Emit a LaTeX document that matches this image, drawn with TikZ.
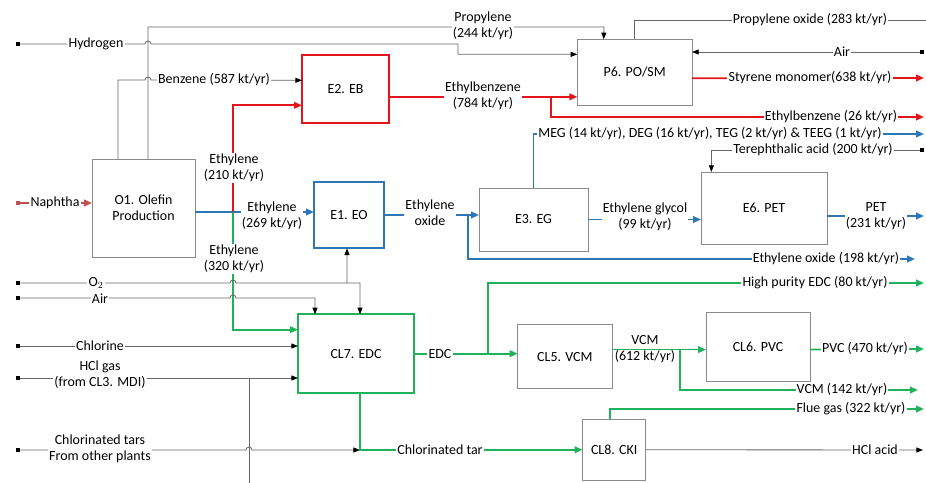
\documentclass[tikz,border=0pt]{standalone}
\usepackage{fontspec}
\setmainfont{Carlito}
\usepackage{tikz}
\usetikzlibrary{arrows.meta,positioning}
\definecolor{boxgray}{HTML}{8A8A8A}
\definecolor{linegray}{HTML}{666666}
\definecolor{ebred}{HTML}{E3151A}
\definecolor{naph}{HTML}{C0504D}
\definecolor{eoblue}{HTML}{2D76B8}
\definecolor{clgreen}{HTML}{1FB25A}

\begin{document}
\begin{tikzpicture}[x=0.03cm, y=-0.03cm,
      box/.style={draw=boxgray, line width=0.7pt, inner sep=0pt, outer sep=0pt, align=center, font=\fontsize{11.9}{13.8}\selectfont},
      lbl/.style={fill=white, inner sep=1pt, align=center, font=\fontsize{11.9}{13.8}\selectfont},
      src/.style={fill=black, minimum size=0.13cm, inner sep=0pt},
      gline/.style={draw=linegray, line width=0.7pt},
      garr/.style={gline, -{Triangle[length=2mm, width=1.5mm, color=black]}},
      rline/.style={draw=ebred, line width=1.5pt},
      rarr/.style={rline, -{Triangle[length=2.4mm, width=2mm]}},
      bline/.style={draw=eoblue, line width=1.5pt},
      barr/.style={bline, -{Triangle[length=2.4mm, width=2mm]}},
      cline/.style={draw=clgreen, line width=1.5pt},
      carr/.style={cline, -{Triangle[length=2.4mm, width=2mm]}},
      narr/.style={draw=naph, line width=1.5pt, -{Triangle[length=2.4mm, width=2mm]}}
    ]
    \useasboundingbox (0,0) rectangle (926,483);

    \node[box, minimum width=3.09cm, minimum height=2.94cm] (o1) at (143.5,208) {O1. Olefin\\Production};
    \node[box, draw=eoblue, line width=1.5pt, minimum width=2.1cm, minimum height=2.0cm, right=3.57cm of o1, yshift=-0.21cm] (e1) {E1. EO};
    \node[box, draw=ebred, line width=1.5pt, minimum width=2.61cm, minimum height=2.04cm, above=1.75cm of e1, xshift=-0.105cm] (e2) {E2. EB};
    \node[box, minimum width=3.27cm, minimum height=1.89cm, right=2.85cm of e1, yshift=-0.135cm] (e3) {E3. EG};
    \node[box, minimum width=3.78cm, minimum height=2.16cm, right=3.39cm of e3, yshift=0.345cm] (e6) {E6. PET};
    \node[box, minimum width=3.44cm, minimum height=1.98cm, right=5.65cm of e2, yshift=0.51cm] (p6) {P6. PO/SM};
    \node[box, draw=clgreen, line width=1.5pt, minimum width=3.48cm, minimum height=2.36cm, below=1.98cm of e1, xshift=0.21cm] (cl7) {CL7. EDC};
    \node[box, minimum width=2.83cm, minimum height=1.94cm, right=3.11cm of cl7, yshift=-0.087cm] (cl5) {CL5. VCM};
    \node[box, minimum width=3.12cm, minimum height=2.07cm, right=2.82cm of cl5, yshift=0.30cm] (cl6) {CL6. PVC};
    \node[box, minimum width=1.9cm, minimum height=1.83cm, below=0.91cm of cl5, xshift=1.48cm] (cl8) {CL8. CKI};

    % feeds on the left
    \node[src] (hyd) at (18,44) {};
    \node[src, fill=naph] (nap) at (18,203) {};
    \node[src] (oxy) at (18,283) {};
    \node[src] (air) at (18,298) {};
    \node[src] (chl) at (18,346) {};
    \node[src] (hcl) at (18,378) {};
    \node[src] (tar) at (18,450) {};
    % feeds on the right
    \node[src] (airr) at (922,52) {};
    \node[src] (tpa) at (922,150) {};

    % product ends
    \coordinate (poout) at (926,20);
    \coordinate (smout) at (924,78);
    \coordinate (ebout) at (924,117);
    \coordinate (megout) at (924,134);
    \coordinate (petout) at (924,216);
    \coordinate (eoout) at (915,259);
    \coordinate (hpedc) at (924,283);
    \coordinate (pvcout) at (924,349);
    \coordinate (vcmout) at (918,390);
    \coordinate (flueout) at (924,409);
    \coordinate (hclacid) at (923,450);
    \coordinate (hcldown) at (249,483);

    % junctions
    \coordinate (jet) at (233,212);
    \coordinate (jox) at (347,283);
    \coordinate (jhcl) at (249,378);
    \coordinate (jtar) at (360,450);
    \coordinate (jeo) at ([xshift=2.52cm]e1.east);
    \coordinate (jeb) at ([xshift=4.85cm, yshift=-0.225cm]e2.east);
    \coordinate (jedc) at ([xshift=2.22cm]cl7.east);
    \coordinate (jvcm) at ([xshift=2.04cm, yshift=0.21cm]cl5.east);

    \draw[garr] (hyd) -- (145,44) arc[start angle=180, end angle=0, radius=0.09cm] -- (458,44) |- ([yshift=0.54cm]p6.west);
    \draw[garr] ([xshift=0.135cm]o1.north) |- (604,27) -- ([xshift=-0.93cm]p6.north);
    \draw[garr] ([xshift=-0.765cm]o1.north) |- (145,80) arc[start angle=180, end angle=0, radius=0.09cm] -- ([yshift=0.27cm]e2.west);
    \draw[narr] (nap) -- ([yshift=0.15cm]o1.west);

    \draw[barr] ([yshift=-0.12cm]o1.east) -- (e1.west |- jet);
    \draw[rarr] (jet) |- ([yshift=-0.48cm]e2.west);
    \draw[carr] (jet) |- ([yshift=0.72cm]cl7.west);

    \draw[garr] (oxy) -- (230,283) arc[start angle=180, end angle=0, radius=0.09cm] -- (360,283) -- ([xshift=0.12cm]cl7.north);
    \draw[garr] (jox) -- ([xshift=-0.06cm]e1.south);
    \draw[garr] (air) -- (230,298) arc[start angle=180, end angle=0, radius=0.09cm] -- (315,298) -- ([xshift=-1.23cm]cl7.north);
    \draw[garr] (chl) -- (cl7.west |- chl);
    \draw[garr] (hcl) -- (cl7.west |- hcl);
    \draw[gline] (jhcl) -- (hcldown);
    \draw[garr] (tar) -- (246,450) arc[start angle=180, end angle=0, radius=0.09cm] -- (jtar);

    \draw[carr] ([xshift=0.12cm]cl7.south) |- (cl8.west);
    \draw[carr] (cl7.east) -- (cl7.east -| cl5.west);
    \draw[carr] (jedc) |- (hpedc);
    \draw[carr] ([yshift=0.21cm]cl5.east) -- (jvcm -| cl6.west);
    \draw[carr] (jvcm) |- (vcmout);
    \draw[carr] (cl6.east |- jvcm) -- (pvcout);
    \draw[carr] ([xshift=-0.13cm]cl8.north) |- (flueout);
    \draw[garr] (cl8.east) -- (hclacid);

    \draw[barr] (e1.east) -- (e1.east -| e3.west);
    \draw[barr] (jeo) |- (eoout);
    \draw[barr] (e3.north) |- (megout);
    \draw[barr] (e3.east) -- (e3.east -| e6.west);
    \draw[barr] ([yshift=-0.24cm]e6.east) -- (petout);
    \draw[garr] (tpa) -| ([xshift=-1.58cm]e6.north);

    \draw[rarr] ([yshift=-0.225cm]e2.east) -- (jeb -| p6.west);
    \draw[rarr] (jeb) |- (ebout);
    \draw[gline] (p6.north) |- (poout);
    \draw[garr] (airr) -- (p6.east |- airr);
    \draw[rarr] ([yshift=-0.18cm]p6.east) -- (smout);

    % stream labels
    \node[lbl] (lhyd) at (96,44) {Hydrogen};
    \node[lbl] (lpro) at (483,26) {Propylene\\(244 kt/yr)};
    \node[lbl] (lben) at (214,80) {Benzene (587 kt/yr)};
    \node[lbl] (lnap) at (55,203) {Naphtha};
    \node[lbl] (let1) at (234,168) {Ethylene\\(210 kt/yr)};
    \node[lbl] (let2) at (272,216) {Ethylene\\(269 kt/yr)};
    \node[lbl] (let3) at (234,259) {Ethylene\\(320 kt/yr)};
    \node[lbl] (loxy) at (96,283) {O$_2$};
    \node[lbl] (lair) at (100,299) {Air};
    \node[lbl] (lchl) at (100,346) {Chlorine};
    \node[lbl] (lhcl) at (100,375) {HCl gas\\(from CL3. MDI)};
    \node[lbl] (ltar) at (100,449) {Chlorinated tars\\From other plants};
    \node[lbl] (leb) at (483,96) {Ethylbenzene\\(784 kt/yr)};
    \node[lbl] (lpo) at (810,20) {Propylene oxide (283 kt/yr)};
    \node[lbl] (lairr) at (842,52) {Air};
    \node[lbl] (lsm) at (810,78) {Styrene monomer(638 kt/yr)};
    \node[lbl] (leb2) at (831,117) {Ethylbenzene (26 kt/yr)};
    \node[lbl, anchor=west] (lmeg) at (537,134) {MEG (14 kt/yr), DEG (16 kt/yr), TEG (2 kt/yr) \& TEEG (1 kt/yr)};
    \node[lbl] (ltpa) at (813,150) {Terephthalic acid (200 kt/yr)};
    \node[lbl] (leo) at (430,213) {Ethylene\\oxide};
    \node[lbl] (leg) at (645,217) {Ethylene glycol\\(99 kt/yr)};
    \node[lbl] (lpet) at (876,216) {PET\\(231 kt/yr)};
    \node[lbl] (leo2) at (826,259) {Ethylene oxide (198 kt/yr)};
    \node[lbl] (lhp) at (815,283) {High purity EDC (80 kt/yr)};
    \node[lbl] (ledc) at (440,354) {EDC};
    \node[lbl, fill=none] (lvcm) at (645,349) {VCM\\(612 kt/yr)};
    \node[lbl] (lpvc) at (865,349) {PVC (470 kt/yr)};
    \node[lbl] (lvcm2) at (842,390) {VCM (142 kt/yr)};
    \node[lbl] (lflue) at (851,409) {Flue gas (322 kt/yr)};
    \node[lbl] (lhcla) at (875,450) {HCl acid};
    \node[lbl] (lctar) at (440,450) {Chlorinated tar};
  \end{tikzpicture}
\end{document}
